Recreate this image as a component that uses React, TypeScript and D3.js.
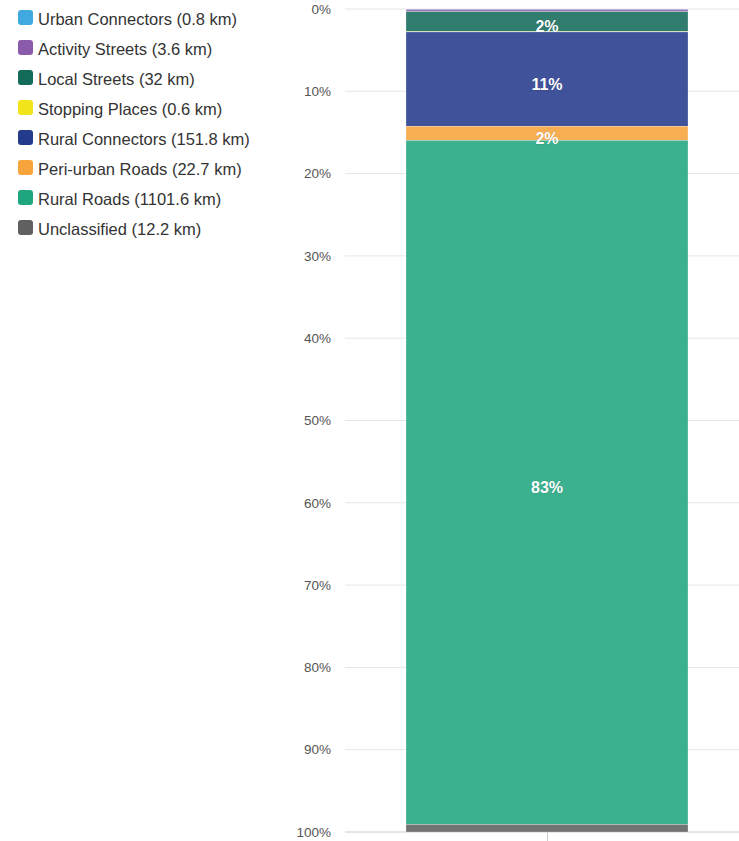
import React from "react";
import * as d3 from "d3";

const categories = [
  "Urban Connectors",
  "Activity Streets",
  "Local Streets",
  "Stopping Places",
  "Rural Connectors",
  "Peri-urban Roads",
  "Rural Roads",
  "Unclassified",
];
const lengthsKm = [0.8, 3.6, 32, 0.6, 151.8, 22.7, 1101.6, 12.2];
const colors = ["#3fa9e0", "#8b5bab", "#136b5a", "#f2e41a", "#243a8c", "#f7a43c", "#20a67f", "#606060"];
const yTicks = [0, 10, 20, 30, 40, 50, 60, 70, 80, 90, 100];

const W = 739;
const H = 841;

export default function App() {
  const total = d3.sum(lengthsKm);
  const pcts = lengthsKm.map((v) => (v / total) * 100);
  const y = d3.scaleLinear().domain([0, 100]).range([9, 832]);
  const bx = 406;
  const bw = 282;
  let acc = 0;
  const segs = pcts.map((p, i) => {
    const s = { i, start: acc, end: acc + p, p };
    acc += p;
    return s;
  });
  const font = "Arial, 'Liberation Sans', sans-serif";
  return (
    <svg width={W} height={H} style={{ position: "absolute", left: 0, top: 0 }} fontFamily={font}>
      <rect width={W} height={H} fill="#fff" />
      {yTicks.map((t) => (
        <g key={t}>
          <line x1={345} x2={W} y1={y(t)} y2={y(t)} stroke={t === 100 ? "#cccccc" : "#e6e6e6"} strokeWidth={1} />
          <text x={331} y={y(t)} dy="0.35em" textAnchor="end" fontSize={13.5} fill="#555">
            {t}%
          </text>
        </g>
      ))}
      <line x1={547.5} x2={547.5} y1={832} y2={842} stroke="#cccccc" />
      {segs.map((s) => (
        <rect
          key={s.i}
          x={bx}
          width={bw}
          y={y(s.start)}
          height={Math.max(0, y(s.end) - y(s.start))}
          fill={colors[s.i]}
          fillOpacity={0.88}
          stroke="#ffffff"
          strokeOpacity={0.5}
          strokeWidth={0.5}
        />
      ))}
      {segs
        .filter((s) => Math.round(s.p) >= 2)
        .map((s) => (
          <text
            key={"l" + s.i}
            x={bx + bw / 2}
            y={(y(s.start) + y(s.end)) / 2 + 5}
            dy="0.35em"
            textAnchor="middle"
            fontSize={16}
            fontWeight="bold"
            fill="#ffffff"
            stroke="rgba(0,0,0,0.15)"
            strokeWidth={1}
            paintOrder="stroke"
          >
            {Math.round(s.p)}%
          </text>
        ))}
      {categories.map((c, i) => (
        <g key={c} transform={`translate(18, ${18 + i * 30})`}>
          <rect x={0} y={-8} width={15} height={15} rx={3} fill={colors[i]} />
          <text x={20} y={1} dy="0.35em" fontSize={16.5} fill="#333">
            {c} ({lengthsKm[i]} km)
          </text>
        </g>
      ))}
    </svg>
  );
}
